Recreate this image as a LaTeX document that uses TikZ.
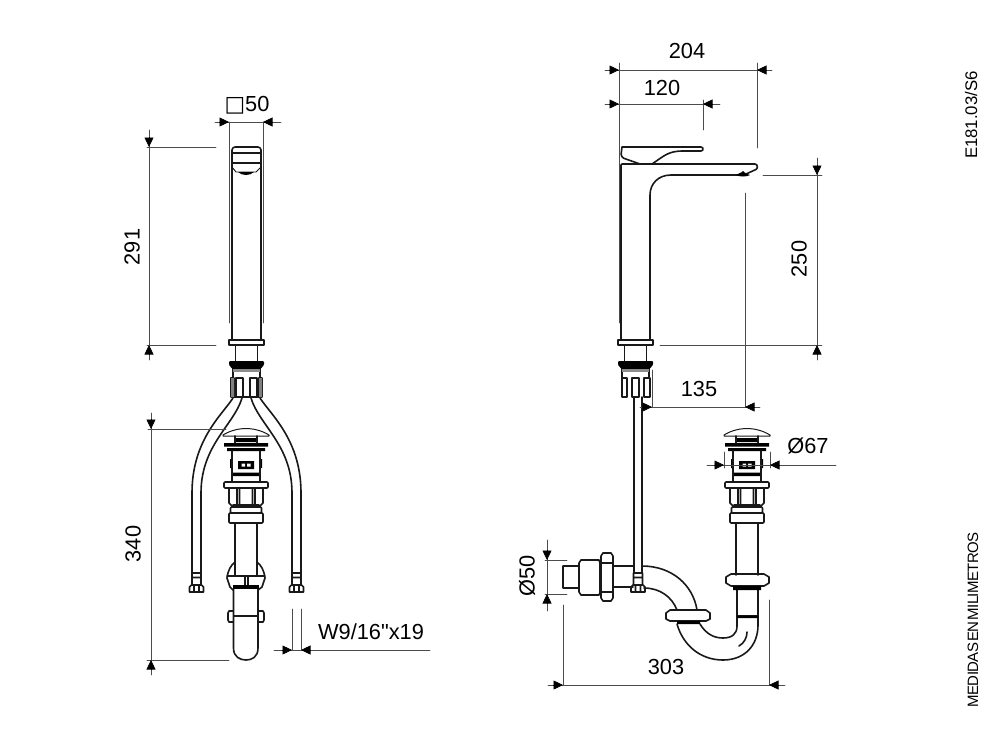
\documentclass[tikz,border=0pt]{standalone}
\usepackage{fontspec}
\setmainfont{Liberation Sans}
\newfontfamily\tightfont[LetterSpace=-4,WordSpace=0.3]{Liberation Sans}
\newfontfamily\plainfont{Liberation Sans}
\newfontfamily\symfont{DejaVu Sans}
\usetikzlibrary{arrows.meta}
\tikzset{
	body/.style={line width=1.6pt,black!90},
	dimline/.style={line width=0.6pt,black!70},
	dimtip/.style={line width=0.6pt,black,-{Triangle[length=9.5pt,width=9pt,fill=black]}},
	dimlabel/.style={font=\fontsize{21.8}{24}\selectfont,inner sep=0pt},
	popup/.pic={
		\draw[body,line width=1pt]
		(-23,435) .. controls (-15,430) and (-6,428.5) .. (0,428.5) .. controls (6,428.5) and (15,430) .. (23,435)
		(-23,436)--(23,436)
		(-23,435)--(-23,436)
		(23,435)--(23,436)
		;
		\fill[black]
		(-11,438)--(11,438)--(11,442)--(-11,442)--cycle
		(-22,443)--(22,443)--(22,446.5)--(-22,446.5)--cycle
		(-19,448)--(19,448)--(19,451)--(-19,451)--cycle
		(-14,472.5)--(14,472.5)--(14,476)--(-14,476)--cycle
		(-8,461)--(8,461)--(8,469)--(-8,469)--cycle
		(-16,459)--(-14,459)--(-14,468)--(-16,468)--cycle
		(16,459)--(14,459)--(14,468)--(16,468)--cycle
		;
		\fill[white]
		(-4.5,463.5)--(-1,463.5)--(-1,466.5)--(-4.5,466.5)--cycle
		(1,463.5)--(4.5,463.5)--(4.5,466.5)--(1,466.5)--cycle
		;
		\draw[body]
		(-11,436)--(-11,443)
		(11,436)--(11,443)
		(-14,451)--(-14,482)
		(14,451)--(14,482)
		;
		\draw[body,rounded corners=1pt]
		(-22,482) rectangle (22,488)
		(-15.5,507) rectangle (15.5,513)
		(-17,513) rectangle (17,523)
		;
		\draw[body]
		(-17,488)--(-17,503)--(-13,507)
		(17,488)--(17,503)--(13,507)
		(-9,488)--(-9,507)
		(-6.5,488)--(-6.5,507)
		(6.5,488)--(6.5,507)
		(9,488)--(9,507)
		(-13,505)--(13,505)
		;
	},
	hosenut/.pic={
		\draw[body]
		(-4.5,573)--(4.5,573)
		(-4.5,577.5)--(4.5,577.5)
		(-4.5,573)--(-4.5,585)
		(4.5,573)--(4.5,585)
		(-7,587)--(-5,585)--(5,585)--(7,587)--(7,592)--(-7,592)--cycle
		(-2.5,585)--(-2.5,592)
		(2.5,585)--(2.5,592)
		;
	},
	basecollar/.pic={
		\draw[body]
		(-17.5,340) rectangle (17.5,345)
		(-11,345)--(-11,361)
		(11,345)--(11,361)
		(-13.5,367)--(-13.5,378)
		(13.5,367)--(13.5,378)
		;
		\fill[black,rounded corners=1pt]
		(-17.5,361)--(17.5,361)--(17.5,365)--(14,369)--(-14,369)--(-17.5,365)--cycle
		;
		\fill[black!45]
		(-13.5,369) rectangle (13.5,371.5)
		;
	},
}
\begin{document}
\begin{tikzpicture}[x=1pt,y=-1pt,line join=round,line cap=round]
	\useasboundingbox (0,0) rectangle (1000,750);

	% vista frontal
	\draw[body,rounded corners=1pt]
	(232,340)--(232,149)--(234,147)--(259,147)--(261,149)--(261,340)
	(232,153)--(261,153)
	(232,163)--(261,163)
	;
	\draw[body,line width=0.9pt]
	(232,167)--(236,172)--(256,172)--(261,167)
	;
	\fill[black]
	(238,172) .. controls (242,176) and (250,176) .. (254,172) --cycle
	;
	\pic at (246.5,0) {basecollar};
	\draw[body]
	(231,378) rectangle (234,397)
	(236,378) rectangle (243,397)
	(250,378) rectangle (257,397)
	(259,378) rectangle (262,397)
	(231,397)--(262,397)
	;
	\fill[black!50]
	(231,378) rectangle (234,397)
	(259,378) rectangle (262,397)
	;
	\draw[body]
	(233,398) .. controls (222,415) and (192,440) .. (192,493) --(192,573)
	(242,398) .. controls (234,425) and (201,445) .. (201,493) --(201,573)
	(260,398) .. controls (271,415) and (301,440) .. (301,493) --(301,573)
	(251,398) .. controls (259,425) and (292,445) .. (292,493) --(292,573)
	;
	\pic at (196.5,0) {hosenut};
	\pic at (296.5,0) {hosenut};
	\pic at (246,0) {popup};
	\draw[body]
	(235,523)--(235,575)
	(257,523)--(257,575)
	(235,562) .. controls (231,565) and (228,570) .. (227,578) --(230,587)--(233,590)
	(257,562) .. controls (261,565) and (264,570) .. (265,578) --(262,587)--(258,590)
	(227,576)--(265,576)
	(245,576)--(245,586)
	(248,576)--(248,586)
	(233.5,589)--(233.5,648) .. controls (233.5,657) and (240,660) .. (246,660) .. controls (252,660) and (258,657) .. (258,648) --(258,589)
	(233.5,616)--(258,616)
	(233,611)--(229,611)--(228,613)--(228,620)--(229,622)--(233,622)
	(258,611)--(263,611)--(264,613)--(264,620)--(263,622)--(258,622)
	;
	\fill[black]
	(233,585) rectangle (259,589)
	;

	% vista lateral
	\draw[body,rounded corners=1pt]
	(621,340)--(621,164)--(756,164)--(757.5,166)--(757,169)--(746,174)
	(739,175)--(672,175) .. controls (658,175) and (650,184) .. (650,196) --(650,340)
	(622,147)--(702,147)--(703.5,149)--(702,151)--(684,151) .. controls (668,151) and (664,156) .. (652,164)
	(622,147)--(621,155)--(623,158)--(640,164)
	;
	\fill[black]
	(736,175) .. controls (738,173) and (742,173) .. (743,171) .. controls (744,173) and (747,174) .. (750,175) .. controls (747,177) and (739,177) .. (736,175) --cycle
	;
	\pic at (635.5,0) {basecollar};
	\draw[body]
	(622,378) rectangle (627,397)
	(632,378) rectangle (639,397)
	(644,378) rectangle (650,397)
	;
	\draw[body]
	(634,397)--(634,573)
	(642,397)--(642,573)
	;
	\pic at (638,0) {hosenut};
	\pic at (747,0) {popup};
	\draw[body]
	(736,523)--(736,575)
	(758,523)--(758,575)
	;
	% sifao
	\draw[body]
	(563,566) rectangle (579,588)
	(579,563)--(581,560)--(599,560)--(600,563)--(600,592)--(599,595)--(581,595)--(579,592)--cycle
	(601,556)--(603,553)--(611,553)--(613,556)--(613,598)--(611,601)--(603,601)--(601,598)--cycle
	(601,563)--(613,563)
	(601,592)--(613,592)
	(613,566)--(634,566)
	(613,587)--(633,587)
	(642,566) .. controls (672,566) and (693,585) .. (697,610)
	(644,588) .. controls (660,588) and (672,597) .. (677,610)
	(670,610)--(706,610)--(710,613)--(710,619)--(706,621)--(670,621)--(666,619)--(666,613)--cycle
	(677,624) .. controls (683,645) and (700,660) .. (723,660) .. controls (745,660) and (758,645) .. (758,625) --(758,616)
	(700,624) .. controls (706,634) and (714,638) .. (723,638) .. controls (732,638) and (737,634) .. (737,626) --(737,616)
	(739,646) .. controls (744,643) and (747,638) .. (747,632)
	(731,574)--(764,574)--(769,577)--(769,583)--(764,586)--(731,586)--(726,583)--(726,577)--cycle
	(737,590)--(737,616)
	(758,590)--(758,616)
	(737,616)--(758,616)
	;
	\fill[black]
	(677,621) rectangle (700,624)
	(733,586) rectangle (761,590)
	(737,615.5) rectangle (758,618)
	;

	% cotas vista frontal
	\draw[dimline]
	(215,122)--(281,122)
	(229,122)--(229,323)
	(263,122)--(263,323)
	(149,130)--(149,360)
	(147,147)--(216,147)
	(147,345)--(216,345)
	(151,413)--(151,675)
	(148,429)--(226,429)
	(147,660)--(229,660)
	(274,650)--(430,650)
	(292,609)--(292,650)
	(301,609)--(301,650)
	;
	\draw[dimtip] (219.5,122)--(229,122);
	\draw[dimtip] (272.5,122)--(263,122);
	\draw[dimtip] (149,137.5)--(149,147);
	\draw[dimtip] (149,354.5)--(149,345);
	\draw[dimtip] (151,419.5)--(151,429);
	\draw[dimtip] (151,669.5)--(151,660);
	\draw[dimtip] (282.5,650)--(292,650);
	\draw[dimtip] (310.5,650)--(301,650);
	\node[dimlabel] (lado) at (247,105) {{\symfont □}50};
	\node[dimlabel,rotate=90] (alturaf) at (132,247) {291};
	\node[dimlabel,rotate=90] (total) at (133,544) {340};
	\node[dimlabel,font=\fontsize{21.8}{24}\plainfont] (rosca) at (371,632) {W9/16"x19};

	% cotas vista lateral
	\draw[dimline]
	(605,70)--(772,70)
	(619,63)--(619,323)
	(757,63)--(757,148)
	(605,104)--(720,104)
	(703,100)--(703,130)
	(817,158)--(817,360)
	(763,175)--(822,175)
	(660,345)--(822,345)
	(640,407)--(760,407)
	(652,370)--(652,407)
	(745,193)--(745,407)
	(707,465)--(836,465)
	(724,452)--(724,468)
	(770,452)--(770,468)
	(547,540)--(547,611)
	(545,560)--(567,560)
	(545,594)--(567,594)
	(548,685)--(785,685)
	(563,605)--(563,685)
	(769,600)--(769,685)
	;
	\draw[dimtip] (609.5,70)--(619,70);
	\draw[dimtip] (766.5,70)--(757,70);
	\draw[dimtip] (609.5,104)--(619,104);
	\draw[dimtip] (712.5,104)--(703,104);
	\draw[dimtip] (817,165.5)--(817,175);
	\draw[dimtip] (817,354.5)--(817,345);
	\draw[dimtip] (642.5,407)--(652,407);
	\draw[dimtip] (754.5,407)--(745,407);
	\draw[dimtip] (714.5,465)--(724,465);
	\draw[dimtip] (779.5,465)--(770,465);
	\draw[dimtip] (547,550.5)--(547,560);
	\draw[dimtip] (547,603.5)--(547,594);
	\draw[dimtip] (553.5,685)--(563,685);
	\draw[dimtip] (778.5,685)--(769,685);
	\node[dimlabel] (largo) at (687,51) {204};
	\node[dimlabel] (palanca) at (662,88) {120};
	\node[dimlabel,rotate=90] (alturas) at (799,259) {250};
	\node[dimlabel] (eixo) at (699,389) {135};
	\node[dimlabel] (valvula) at (808,446) {Ø67};
	\node[dimlabel,rotate=90] (entrada) at (527,576) {Ø50};
	\node[dimlabel] (sifao) at (666,667) {303};

	\node[inner sep=0pt,rotate=90,font=\fontsize{16.8}{18}\selectfont] (codigo) at (971,115) {E181.03/S6};
	\node[inner sep=0pt,rotate=90,font=\fontsize{15}{17}\tightfont] (medidas) at (973,620) {MEDIDAS EN MILIMETROS};
\end{tikzpicture}
\end{document}
